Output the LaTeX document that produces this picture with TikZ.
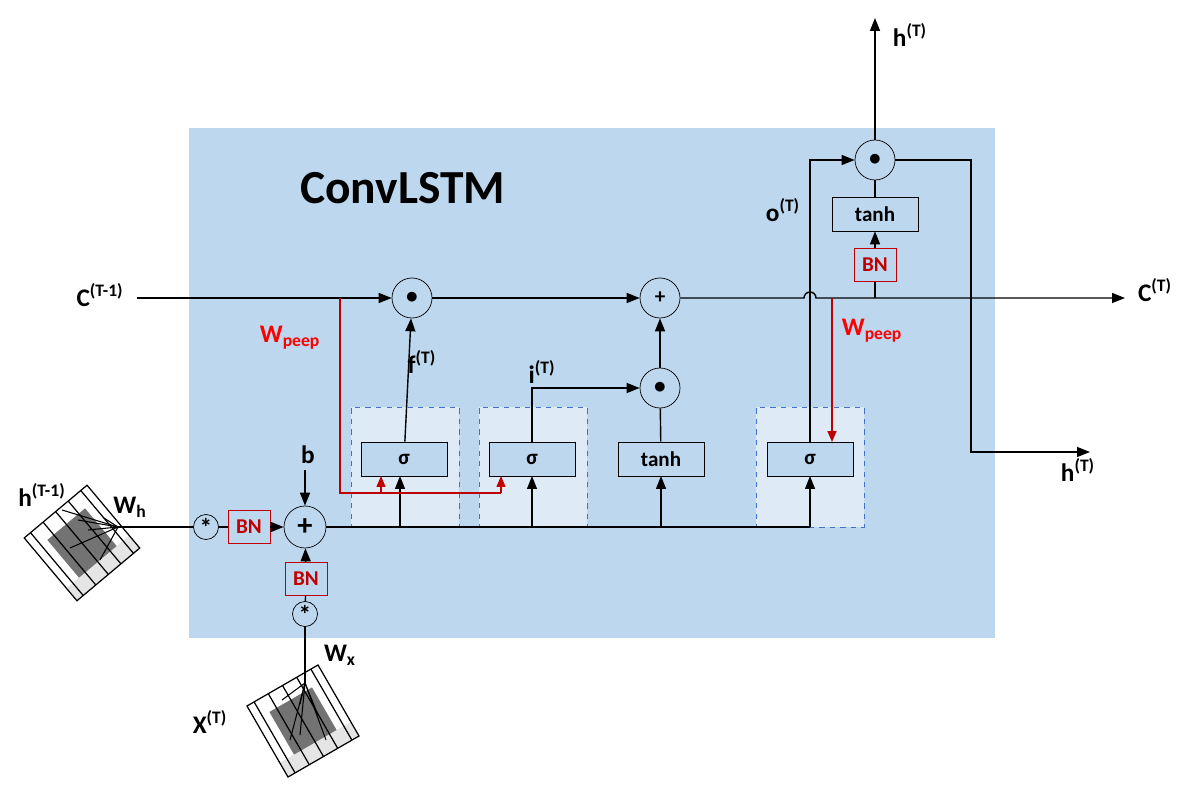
\documentclass[tikz,border=0pt]{standalone}
\usepackage{fontspec}
\setmainfont{Carlito}
\usepackage{tikz}
\usetikzlibrary{arrows.meta, positioning}
\definecolor{cellblue}{HTML}{BDD7EE}
\definecolor{gateblue}{HTML}{DEEBF7}
\definecolor{dashblue}{HTML}{4472C4}
\definecolor{bnred}{HTML}{C00000}
\newcommand{\tsup}[1]{\textsuperscript{\bfseries(#1)}}
\newcommand{\kgrid}{%
  \fill[gray!20] (-41,41) rectangle (41,24.6);
  \fill[gray!90!black] (-24.6,-24.6) rectangle (24.6,24.6);
  \draw[black, line width=0.7pt] (-41,-41) grid[step=16.4] (41,41);
  \draw[black, line width=0.7pt] (-41,-41) rectangle (41,41);
}
\begin{document}
\begin{tikzpicture}[x=0.02cm, y=-0.02cm,
    font=\bfseries,
    % operation circles
    op/.style={circle, draw, fill=cellblue, minimum size=40*0.02cm, inner sep=0pt, font=\large\bfseries},
    conv/.style={circle, draw, fill=cellblue, minimum size=25*0.02cm, inner sep=0pt, font=\Large\bfseries},
    % gate boxes
    gate/.style={rectangle, draw, fill=cellblue, minimum width=86*0.02cm, minimum height=34*0.02cm, inner sep=0pt, font=\large\bfseries},
    bn/.style={rectangle, draw=bnred, fill=cellblue, text=bnred, minimum width=42*0.02cm, minimum height=33*0.02cm, inner sep=0pt, font=\large\bfseries},
    gatebg/.style={rectangle, draw=dashblue, dashed, fill=gateblue, minimum width=108*0.02cm, minimum height=120*0.02cm},
    arrow/.style={-{Triangle[length=2.6mm, width=2mm]}, line width=0.8pt},
    line/.style={line width=0.8pt},
    peep/.style={line width=0.8pt, draw=bnred},
    lbl/.style={font=\Large\bfseries},
]
\useasboundingbox (0,0) rectangle (1183,790);

% cell background
\fill[cellblue] (189,128) rectangle (995,638);
\node[font=\bfseries\fontsize{27}{30}\selectfont, anchor=west] (title) at (294,188) {ConvLSTM};

% gate backgrounds
\node[gatebg] (fbg) at (405,467) {};
\node[gatebg] (ibg) at (533,467) {};
\node[gatebg] (obg) at (810,467) {};

% gates
\node[gate] (sigf) at (404,459) {σ};
\node[gate] (sigi) at (532,459) {σ};
\node[gate] (tanhg) at (661,459) {tanh};
\node[gate] (sigo) at (810,459) {σ};

% operations
\node[op] (mulf) at (412,298) {\Large$\bullet$};
\node[op] (addc) at (660,298) {+};
\node[op] (muli) at (660,388) {\Large$\bullet$};
\node[op] (mulo) at (875,160) {\Large$\bullet$};
\node[op, minimum size=42*0.02cm, font=\LARGE\bfseries] (sum) at (305,527) {+};
\node[conv] (convh) at (206,527) {*};
\node[conv] (convx) at (305,614) {*};
\node[bn] (bnh) at (249,527) {BN};
\node[bn] (bnx) at (306,579) {BN};
\node[gate] (tanhc) at (875,214) {tanh};
\node[bn] (bnc) at (875,265) {BN};

% free ends
\coordinate (cin) at (137,298);
\coordinate (cout) at (1125,298);
\coordinate (hout) at (875,18);
\coordinate (hside) at (1090,452);
\coordinate (bin) at (305,470);
\coordinate (kh) at (118,527);
\coordinate (kx) at (305,683);

% kernels
\begin{scope}[shift={(82,543)}, rotate=40]
\kgrid
\end{scope}
\begin{scope}[shift={(303,721)}, rotate=30]
\kgrid
\end{scope}
\foreach \p in {(62,510),(70,548),(88,530),(100,560),(78,520),(104,518)}
  \draw[line width=0.6pt] (kh) -- \p;
\foreach \p in {(282,700),(290,740),(300,735),(318,715),(326,740),(300,704)}
  \draw[line width=0.6pt] (kx) -- \p;

% labels
\node[lbl] at (100,295) {C\tsup{T-1}};
\node[lbl] at (1155,290) {C\tsup{T}};
\node[lbl] at (910,35) {h\tsup{T}};
\node[lbl] at (1078,470) {h\tsup{T}};
\node[lbl] at (42,495) {h\tsup{T-1}};
\node[lbl] at (130,507) {W\textsubscript{h}};
\node[lbl] at (340,655) {W\textsubscript{x}};
\node[lbl] at (210,722) {X\tsup{T}};
\node[lbl] at (308,455) {b};
\node[lbl] at (422,362) {f\tsup{T}};
\node[lbl] at (542,372) {i\tsup{T}};
\node[lbl] at (783,210) {o\tsup{T}};
\node[lbl, text=red] at (290,338) {W\textsubscript{peep}};
\node[lbl, text=red] at (872,331) {W\textsubscript{peep}};

% cell state path
\draw[arrow] (cin) -- (mulf);
\draw[arrow] (mulf) -- (addc);
\draw[arrow] (addc.east) -- (804,298) arc[start angle=180, end angle=360, radius=6] -- (cout);
\draw[line] (bnc) -- (875,298);
\draw[arrow] (bnc) -- (tanhc);
\draw[line] (tanhc) -- (mulo);
\draw[arrow] (mulo) -- (hout);
\draw[arrow] (mulo.east) -| (971,452) -- (hside);

% gate outputs
\draw[arrow] (sigf) -- (mulf);
\draw[arrow] (sigi.north) |- (muli);
\draw[line] (tanhg) -- (muli);
\draw[arrow] (muli) -- (addc);
\draw[arrow] (sigo.north) |- (mulo);

% inputs
\draw[arrow] (bin) -- (sum);
\draw[line] (kh) -- (convh);
\draw[line] (convh) -- (bnh);
\draw[arrow] (bnh) -- (sum);
\draw[line] (kx) -- (convx);
\draw[line] (convx) -- (bnx);
\draw[arrow] (bnx) -- (sum);
\draw[line] (sum.east) -- (810,527);
\foreach \x in {400, 532, 661, 810}
  \draw[arrow] (\x,527) -- (\x,476);

% peepholes
\draw[peep] (340,298) |- (501,493);
\draw[peep, -{Triangle[length=2.2mm, width=1.8mm]}] (501,493) -- (501,476);
\draw[peep, -{Triangle[length=2.2mm, width=1.8mm]}] (381,493) -- (381,476);
\draw[peep, -{Triangle[length=2.2mm, width=1.8mm]}] (832,298) -- (832,442);
\end{tikzpicture}
\end{document}
